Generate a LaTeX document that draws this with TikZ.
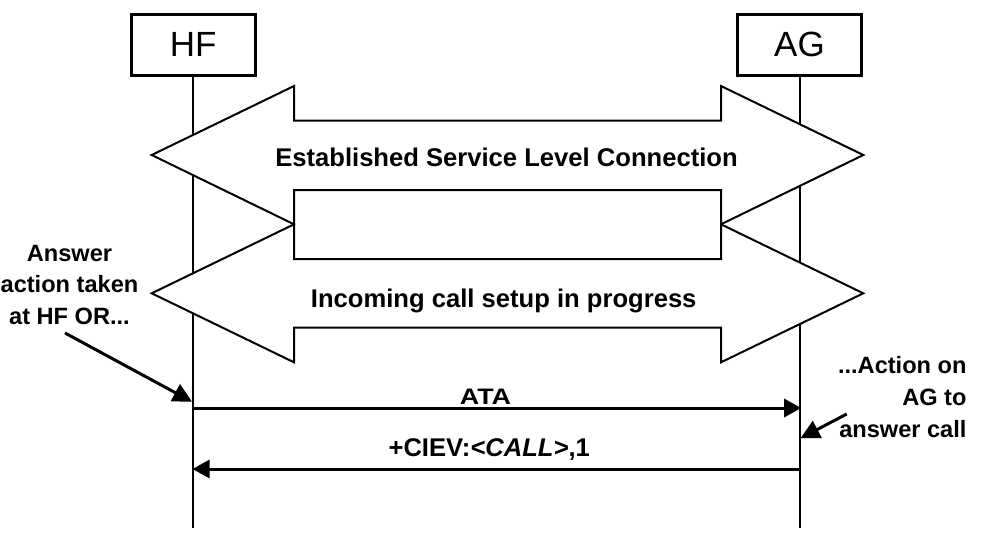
\documentclass[tikz,border=0pt]{standalone}
\usepackage{fontspec}
\usepackage{graphicx}
\setmainfont{Liberation Sans}
\usetikzlibrary{arrows.meta}
\begin{document}
\begin{tikzpicture}[x=1pt,y=-1pt,
  entity/.style={draw,line width=3pt,minimum width=124.2pt,minimum height=60.7pt,inner sep=0pt,font=\fontsize{35}{40}\selectfont},
  lifeline/.style={line width=2pt},
  bigarrow/.style={draw,fill=white,line width=2pt,line join=miter},
  biglabel/.style={inner sep=0pt,anchor=base,font=\bfseries\fontsize{25.6}{30}\selectfont},
  msg/.style={line width=3pt,-{Triangle[length=17pt,width=18pt]}},
  msglabel/.style={inner sep=0pt,anchor=base,font=\bfseries\fontsize{25.6}{30}\selectfont},
  anno/.style={inner sep=0pt,font=\bfseries\fontsize{23.6}{31.7}\selectfont},
  annoarrow/.style={line width=3pt,-{Triangle[length=19pt,width=19pt]}}
]
\useasboundingbox (0,0) rectangle (984,552);

% entities
\node[entity] (HF) at (193.1,44.85) {HF};
\node[entity] (AG) at (799.5,44.85) {AG};

% lifelines
\coordinate (HFend) at (193.1,528);
\coordinate (AGend) at (799.5,528);
\draw[lifeline] (HF.south) -- (HFend);
\draw[lifeline] (AG.south) -- (AGend);

% double arrows
\draw[bigarrow] (151.7,155) -- (294,86) -- (294,120.7) -- (721,120.7) -- (721,86)
  -- (863.3,155) -- (721,224.3) -- (721,190) -- (294,190) -- (294,224.3) -- cycle;
\node[biglabel] (slc) at (506.5,166.5) {Established Service Level Connection};

\draw[bigarrow] (151.7,293.3) -- (294,224.3) -- (294,259) -- (721,259) -- (721,224.3)
  -- (863.3,293.3) -- (721,362.3) -- (721,327.7) -- (294,327.7) -- (294,362.3) -- cycle;
\node[biglabel] (incoming) at (503.7,307) {Incoming call setup in progress};

% messages
\coordinate (HFata) at (193.1,408);
\coordinate (AGata) at (801.2,408);
\draw[msg] (HFata) -- (AGata);
\node[msglabel] (ata) at (485.5,404.3) {\scalebox{1.05}[0.875]{ATA}};

\coordinate (AGciev) at (799.5,469);
\coordinate (HFciev) at (192.5,469);
\draw[msg] (AGciev) -- (HFciev);
\node[msglabel] (ciev) at (489.2,456.7) {+CIEV:\textit{<CALL>},1};

% annotations
\node[anno,anchor=north,align=center] (ans) at (69.5,244.8) {Answer\\action taken\\at HF OR...};
\coordinate (ansfrom) at (65,333);
\coordinate (anstip) at (192,401.7);
\draw[annoarrow] (ansfrom) -- (anstip);

\node[anno,anchor=north east,align=right] (agact) at (966.7,356.4) {...Action on\\AG to\\answer call};
\coordinate (agfrom) at (846.7,414);
\coordinate (agtip) at (800.5,438.3);
\draw[annoarrow] (agfrom) -- (agtip);
\end{tikzpicture}
\end{document}
